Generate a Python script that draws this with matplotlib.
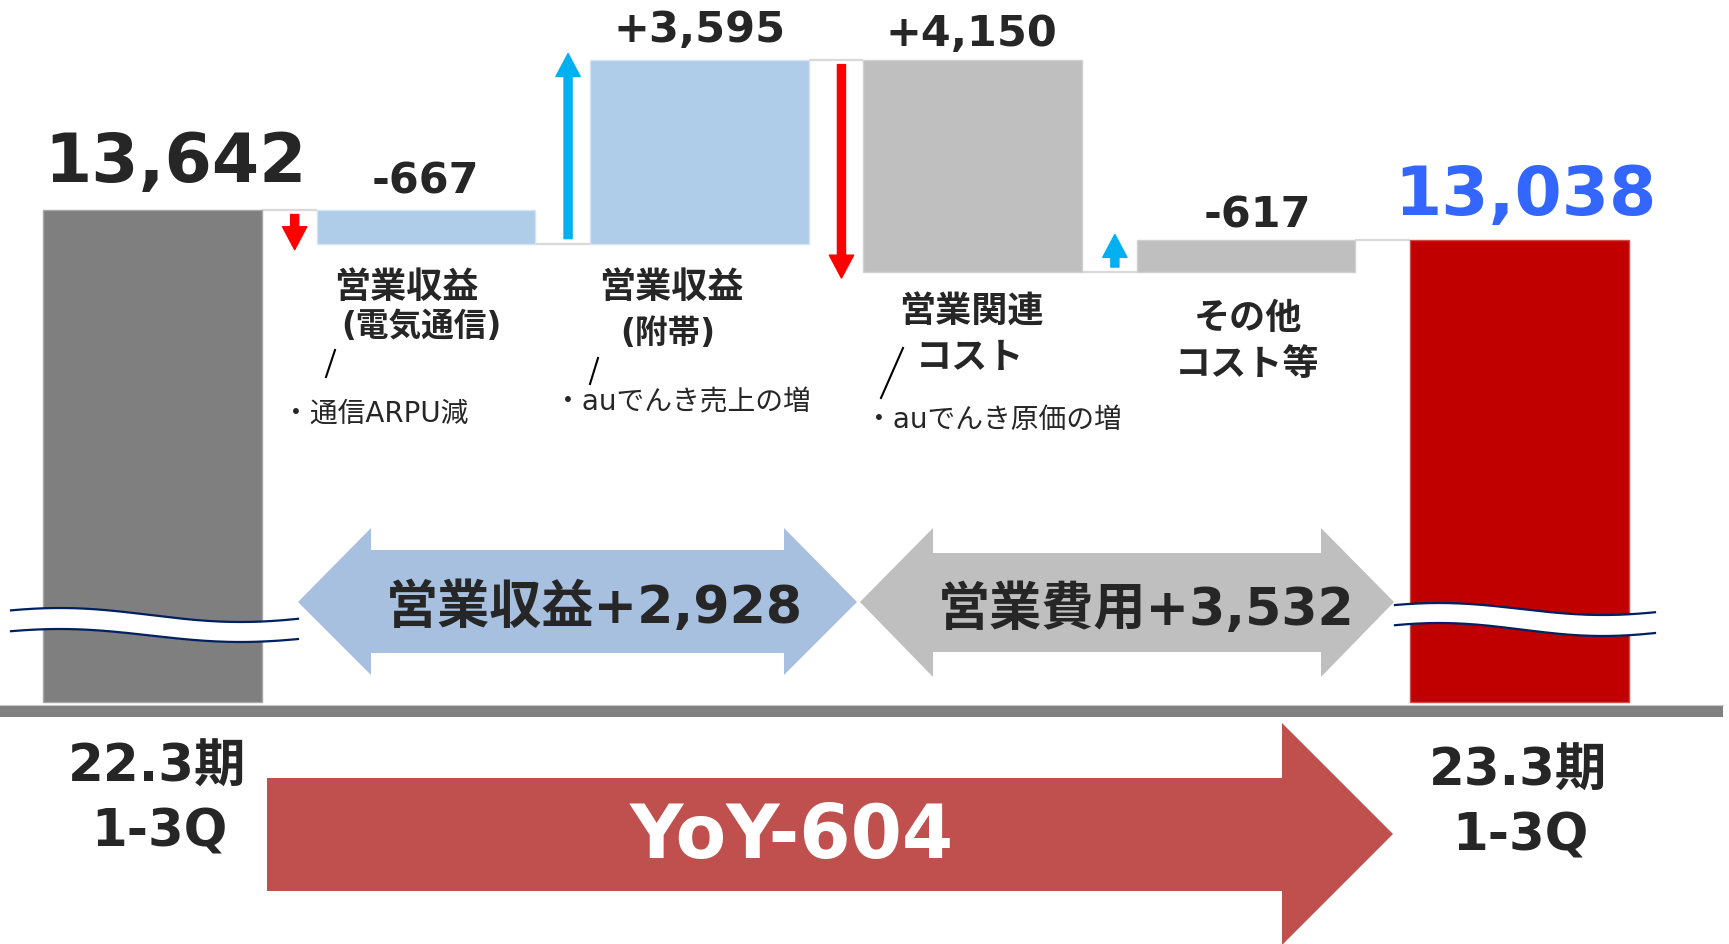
import numpy as np
import matplotlib
matplotlib.use('Agg')
import matplotlib.pyplot as plt
from matplotlib.patches import Polygon, FancyArrowPatch, ArrowStyle

# ---------------- data ----------------
start_label = ['22.3期', '1-3Q']
end_label = ['23.3期', '1-3Q']
start_value = 13642
end_value = 13038
step_names = [['営業収益', '(電気通信)'], ['営業収益', '(附帯)'],
              ['営業関連', 'コスト'], ['その他', 'コスト等']]
step_effects = [-667, 3595, -4150, 617]          # effect on profit
step_labels = ['-667', '+3,595', '+4,150', '-617']
step_notes = ['・通信ARPU減', '・auでんき売上の増', '・auでんき原価の増', None]
revenue_total = '営業収益+2,928'
cost_total = '営業費用+3,532'
yoy_text = 'YoY-604'

# ---------------- style ----------------
DARK = '#262626'
FONTS = ['DejaVu Sans', 'Noto Sans CJK JP']
plt.rcParams['font.family'] = FONTS

W, H = 1729, 944
PITCH, XC0 = 273.4, 152.5         # px per category, px of first centre
K, YREF = 0.0512, 209.5           # px per unit, px of start value


def px_x(x):
    return (x - XC0) / PITCH


def px_y(y):
    return start_value - (y - YREF) / K


fig = plt.figure(figsize=(W / 100, H / 100), dpi=100)
ax = fig.add_axes([0, 0, 1, 1])
ax.set_xlim(px_x(0), px_x(W))
ax.set_ylim(px_y(H), px_y(0))
ax.axis('off')

BASE = px_y(702)
BW = 0.8

# running totals
levels = [start_value]
for d in step_effects:
    levels.append(levels[-1] + d)

# start / end bars (broken axis, drawn from baseline)
ax.bar(0, start_value - BASE, bottom=BASE, width=BW, color='#7f7f7f',
       edgecolor='#a6a6a6', linewidth=1, zorder=2)
ax.bar(5, end_value - BASE, bottom=BASE, width=BW, color='#c00000',
       edgecolor='#d24b4b', linewidth=1, zorder=2)

step_colors = ['#afcce9', '#afcce9', '#bfbfbf', '#bfbfbf']
for i, d in enumerate(step_effects):
    lo = min(levels[i], levels[i + 1])
    ax.bar(i + 1, abs(d), bottom=lo, width=BW, color=step_colors[i],
           edgecolor='#d5e3f2' if i < 2 else '#d0d0d0', linewidth=1, zorder=2)

# connectors
for j in range(5):
    lv = levels[j] if j < 5 else end_value
    ax.plot([j + BW / 2, j + 1 - BW / 2], [lv, lv], color='#d9d9d9', lw=1.6,
            zorder=1, solid_capstyle='butt')

# change arrows
for i, d in enumerate(step_effects):
    sgn = 1 if d > 0 else -1
    y0 = levels[i] + sgn * 5 / K
    y1 = levels[i + 1] + sgn * 6 / K
    col = '#00b0f0' if d > 0 else '#ff0000'
    ax.add_patch(FancyArrowPatch((i + 0.52, y0), (i + 0.52, y1),
                                 arrowstyle=ArrowStyle.Simple(head_length=16.5, head_width=17.5, tail_width=5.8),
                                 mutation_scale=1, color=col, shrinkA=0, shrinkB=0, zorder=4))

# value labels
ax.text(px_x(175), px_y(182), f'{start_value:,}', ha='center', va='baseline',
        fontsize=49, fontweight='bold', color=DARK)
ax.text(px_x(1525), px_y(215), f'{end_value:,}', ha='center', va='baseline',
        fontsize=49, fontweight='bold', color='#3366ff')
lab_pos = [(425, 193), (699.5, 42), (971, 46), (1257.5, 227)]
for (x, y), s in zip(lab_pos, step_labels):
    ax.text(px_x(x), px_y(y), s, ha='center', va='baseline', fontsize=31,
            fontweight='bold', color=DARK)

# category names
name_pos = [[(406, 284.5, 26), (421, 324, 23.5)],
            [(671, 284.5, 26), (668, 331, 23.5)],
            [(971, 309, 26), (970, 354, 26)],
            [(1247.5, 315, 26), (1247.5, 361, 26)]]
for names, poss in zip(step_names, name_pos):
    for s, (x, y, fs) in zip(names, poss):
        em = fs * 100 / 72
        ax.text(px_x(x), px_y(y + 0.38 * em), s, ha='center', va='baseline',
                fontsize=fs, fontweight='bold', color=DARK)

# notes with slashes
note_pos = [(294, 411.5), (566, 400), (877, 417)]
slashes = [((335, 350), (326, 377)), ((598, 358), (590, 384)), ((903, 348), (881, 398))]
for s, (x, y), ((a, b), (c, d)) in zip(step_notes, note_pos, slashes):
    if s is None:
        continue
    em = 20 * 100 / 72
    ax.text(px_x(x - 0.42 * em), px_y(y + 0.38 * em), s, ha='left', va='baseline',
            fontsize=20, color=DARK)
    ax.plot([px_x(a), px_x(c)], [px_y(b), px_y(d)], color='black', lw=1.5, zorder=3)


# double block arrows
def poly(pts, color, z=3):
    ax.add_patch(Polygon([(px_x(x), px_y(y)) for x, y in pts], closed=True,
                         facecolor=color, edgecolor='none', zorder=z))


def dbl_arrow(xl, xbl, xbr, xr, yc, ht, hb, st, sb, color):
    poly([(xl, yc), (xbl, ht), (xbl, st), (xbr, st), (xbr, ht), (xr, yc),
          (xbr, hb), (xbr, sb), (xbl, sb), (xbl, hb)], color)


dbl_arrow(298, 371, 784, 857, 602, 528, 675, 550, 653, '#a8c0df')
dbl_arrow(860, 933, 1321, 1394, 602, 528, 677, 553, 652, '#bfbfbf')
ax.text(px_x(594.5), px_y(623), revenue_total, ha='center', va='baseline',
        fontsize=37.5, fontweight='bold', color=DARK, zorder=6)
ax.text(px_x(1146), px_y(625), cost_total, ha='center', va='baseline',
        fontsize=37.5, fontweight='bold', color=DARK, zorder=6)

# axis break marks
def wave(x0, x1, m, a):
    t = np.linspace(0, 1, 200)
    return x0 + t * (x1 - x0), m - a * np.cos(2 * np.pi * (t - 0.17) / 1.26)


for x0, x1, (mu, au), (ml, al) in [(11, 298, (615, 7), (635.5, 6.5)),
                                   (1395, 1655, (609, 6), (629.5, 6.5))]:
    xu, yu = wave(x0, x1, mu, au)
    xl, yl = wave(x0, x1, ml, al)
    X = px_x(xu)
    ax.fill_between(X, px_y(yu), px_y(yl), color='white', zorder=5, lw=0)
    ax.plot(X, px_y(yu), color='#002060', lw=1.6, zorder=6)
    ax.plot(X, px_y(yl), color='#002060', lw=1.6, zorder=6)

# baseline band
ax.fill_between([px_x(0), px_x(1723)], px_y(706), px_y(717), color='#808080', lw=0, zorder=3)
ax.plot([px_x(0), px_x(1723)], [px_y(705), px_y(705)], color='#c8c8c8', lw=0.8, zorder=3)

# YoY arrow
poly([(267, 778), (1282, 778), (1282, 723), (1393, 834), (1282, 945),
      (1282, 891), (267, 891)], '#c0504d')
ax.text(px_x(792), px_y(858), yoy_text, ha='center', va='baseline', fontsize=53,
        fontweight='bold', color='white', zorder=6)

# period labels
ax.text(px_x(157), px_y(782), start_label[0], ha='center', va='baseline', fontsize=37,
        fontweight='bold', color=DARK)
ax.text(px_x(159.5), px_y(847), start_label[1], ha='center', va='baseline', fontsize=37,
        fontweight='bold', color=DARK)
ax.text(px_x(1518), px_y(786), end_label[0], ha='center', va='baseline', fontsize=37,
        fontweight='bold', color=DARK)
ax.text(px_x(1520), px_y(850), end_label[1], ha='center', va='baseline', fontsize=37,
        fontweight='bold', color=DARK)

fig.savefig('out.png', dpi=100, facecolor='white')
